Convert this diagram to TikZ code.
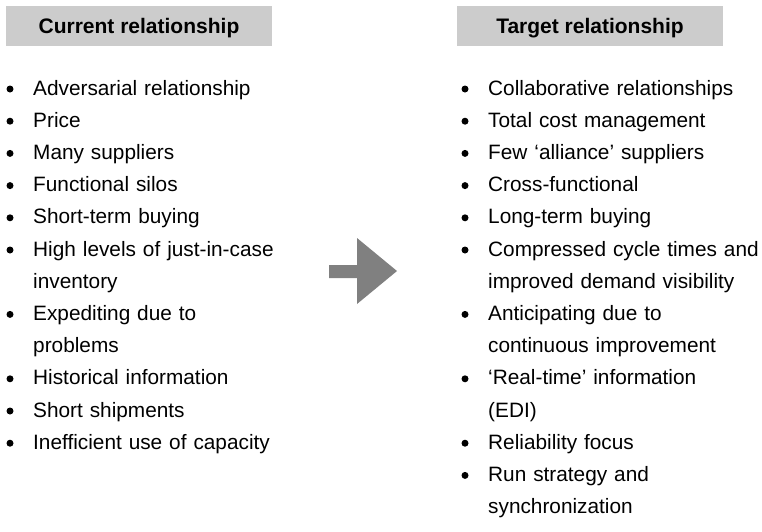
\documentclass[tikz,border=0pt]{standalone}
\usepackage{fontspec}
\setmainfont{Liberation Sans}
\usepackage{xcolor}
\usepackage{tikz}
\definecolor{HeaderGray}{HTML}{CCCCCC}
\definecolor{ArrowGray}{HTML}{808080}
\definecolor{InkBlack}{HTML}{000000}

\begin{document}
\begin{tikzpicture}[x=1pt, y=-1pt,
    headbox/.style={fill=HeaderGray, text=InkBlack, inner sep=0pt, minimum width=266pt,
        text height=27pt, text depth=13pt, anchor=base, font=\fontsize{21}{25}\selectfont\bfseries},
    itemtext/.style={anchor=base west, inner sep=0pt, text width=300pt, align=left,
        text=InkBlack, font=\fontsize{20.8}{32.2}\selectfont},
    itembullet/.style={circle, fill=InkBlack, inner sep=0pt, minimum size=7pt}]
            \useasboundingbox (0,0) rectangle (762,531);

            % Column headers
            \node[headbox] (curhead) at (139,33) {Current relationship};
            \node[headbox] (tgthead) at (590,33) {Target relationship};

            % Current list
            \foreach \row/\txt in {0/Adversarial relationship, 1/Price, 2/Many suppliers,
                3/Functional silos, 4/Short-term buying, 5/{High levels of just-in-case\\inventory},
                7/{Expediting due to\\problems}, 9/Historical information, 10/Short shipments,
                11/Inefficient use of capacity} {
                \node[itembullet] (curdot\row) at (10,89+32.2*\row) {};
                \node[itemtext] (cur\row) at (33,95+32.2*\row) {\txt};
            }

            % Target list
            \foreach \row/\txt in {0/Collaborative relationships, 1/Total cost management,
                2/Few ‘alliance’ suppliers, 3/Cross-functional, 4/Long-term buying,
                5/{Compressed cycle times and\\improved demand visibility},
                7/{Anticipating due to\\continuous improvement}, 9/{‘Real-time’ information\\(EDI)},
                11/Reliability focus, 12/{Run strategy and\\synchronization}} {
                \node[itembullet] (tgtdot\row) at (465,89+32.2*\row) {};
                \node[itemtext] (tgt\row) at (488,95+32.2*\row) {\txt};
            }

            % Block arrow
            \fill[ArrowGray] (329,265) -- (357,265) -- (357,238) -- (397,271) -- (357,304)
                -- (357,278) -- (329,278) -- cycle;
        \end{tikzpicture}
\end{document}
